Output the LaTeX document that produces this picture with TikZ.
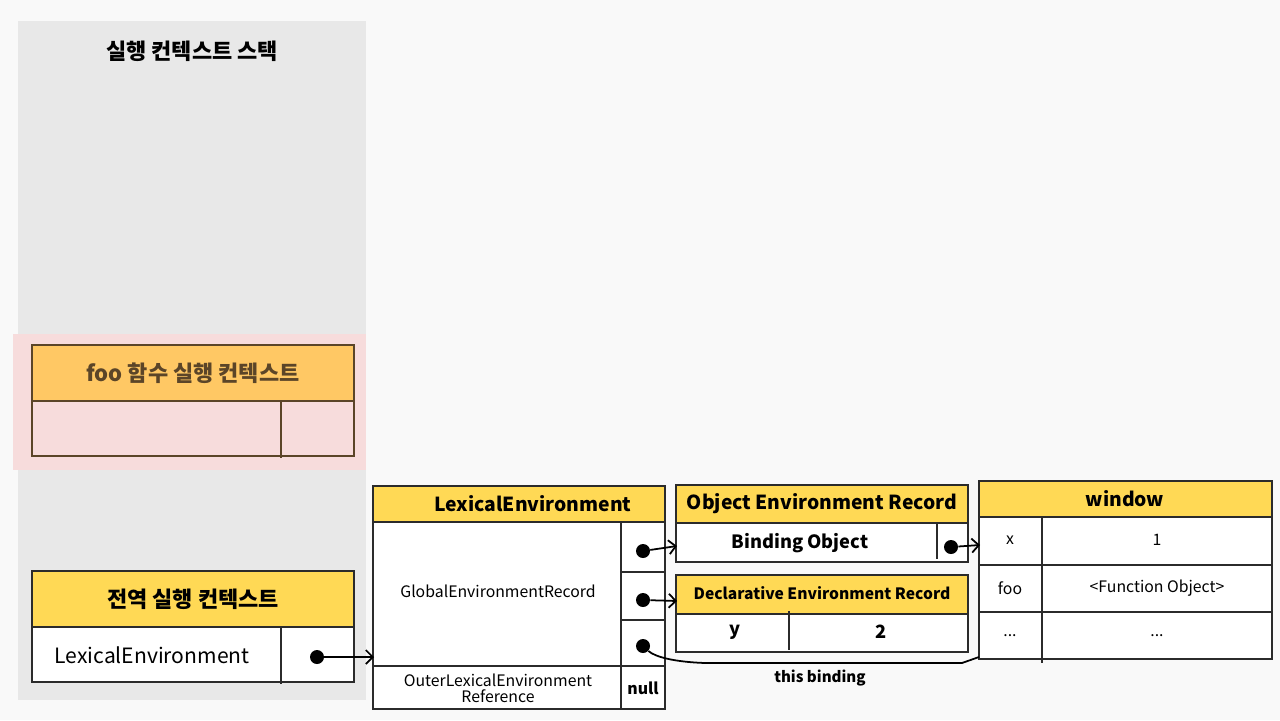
\documentclass[tikz,border=0pt]{standalone}
\usepackage{fontspec}
\setmainfont{Noto Sans CJK KR}
\usetikzlibrary{arrows.meta}

\definecolor{canvas}{HTML}{F9F9F9}
\definecolor{stackgray}{HTML}{E8E8E8}
\definecolor{pinkbg}{HTML}{F7DCDC}
\definecolor{orangehdr}{HTML}{FFC864}
\definecolor{yellowhdr}{HTML}{FFD955}
\definecolor{brownline}{HTML}{5B4528}
\definecolor{darkline}{HTML}{2B2B2B}

\tikzset{
  box/.style={draw=darkline, line width=0.7pt},
  dot/.style={circle, fill=black, inner sep=0pt, minimum size=0.28cm},
  link/.style={line width=1pt, -{Straight Barb[length=1.4mm, width=2.8mm]}},
  bigtext/.style={font=\bfseries\fontsize{12.5}{15}\selectfont},
  hdrtext/.style={font=\bfseries\fontsize{11}{13}\selectfont},
  celltext/.style={font=\fontsize{9}{9.2}\selectfont, align=center},
  boldcell/.style={font=\bfseries\fontsize{10.4}{12}\selectfont},
}

\begin{document}
\begin{tikzpicture}[x=0.02cm, y=-0.02cm]
  \fill[canvas] (0, 0) rectangle (1280, 720);
  \useasboundingbox (0, 0) rectangle (1280, 720);

  \fill[stackgray] (18, 21) rectangle (366, 700);
  \node[bigtext] (stacktitle) at (192, 51) {실행 컨텍스트 스택};

  % foo context
  \fill[pinkbg] (13, 334) rectangle (366, 470);
  \draw[box, draw=brownline, fill=orangehdr] (32, 345) rectangle (354, 401);
  \draw[box, draw=brownline, fill=pinkbg] (32, 401) rectangle (354, 456);
  \draw[box, draw=brownline] (281, 401) -- (281, 458);
  \node[bigtext, text=brownline] (foohead) at (193, 373) {foo 함수 실행 컨텍스트};

  % global context
  \draw[box, fill=yellowhdr] (32, 571) rectangle (354, 627);
  \draw[box, fill=white] (32, 627) rectangle (354, 682);
  \draw[box] (281, 627) -- (281, 684);
  \node[bigtext] (globalhead) at (193, 599) {전역 실행 컨텍스트};
  \node[font=\fontsize{12}{14}\selectfont] (globalle) at (152, 655) {LexicalEnvironment};
  \node[dot] (globaldot) at (317, 657) {};

  % lexical environment
  \draw[box, fill=yellowhdr] (373, 486) rectangle (665, 522);
  \draw[box, fill=white] (373, 522) rectangle (665, 666);
  \draw[box, fill=white] (373, 666) rectangle (665, 709);
  \draw[box] (621, 522) -- (621, 709);
  \draw[box] (621, 572) -- (665, 572);
  \draw[box] (621, 620) -- (665, 620);
  \node[hdrtext] (lehead) at (533, 504) {LexicalEnvironment};
  \node[celltext] (globalrec) at (498, 591) {GlobalEnvironmentRecord};
  \node[celltext] (outerref) at (498, 688) {OuterLexicalEnvironment\\Reference};
  \node[celltext, font=\bfseries\fontsize{9}{11}\selectfont] (nullcell) at (643, 688) {null};
  \node[dot] (recdot1) at (643, 551) {};
  \node[dot] (recdot2) at (643, 600) {};
  \node[dot] (recdot3) at (643, 646) {};

  % object environment record
  \draw[box, fill=yellowhdr] (676, 485) rectangle (968, 523);
  \draw[box, fill=white] (676, 523) rectangle (968, 562);
  \draw[box] (937, 522) -- (937, 559);
  \node[hdrtext] (objhead) at (822, 504) {Object Environment Record};
  \node[boldcell] (bindobj) at (800, 543) {Binding Object};
  \node[dot] (objdot) at (951, 547) {};

  % declarative environment record
  \draw[box, fill=yellowhdr] (676, 575) rectangle (968, 614);
  \draw[box, fill=white] (676, 614) rectangle (968, 652);
  \draw[box] (789, 611) -- (789, 650);
  \node[font=\bfseries\fontsize{8.9}{11}\selectfont] (declhead) at (822, 593) {Declarative Environment Record};
  \node[boldcell] (decly) at (735, 632) {y};
  \node[boldcell] (declval) at (881, 632) {2};

  % window
  \draw[box, fill=yellowhdr] (979, 481) rectangle (1272, 517);
  \draw[box, fill=white] (979, 517) rectangle (1272, 659);
  \draw[box] (979, 565) -- (1272, 565);
  \draw[box] (979, 612) -- (1272, 612);
  \draw[box] (1042, 517) -- (1042, 663);
  \node[hdrtext] (winhead) at (1125, 499) {window};
  \node[celltext] (winx) at (1010, 540) {x};
  \node[celltext] (winxval) at (1157, 540) {1};
  \node[celltext] (winfoo) at (1010, 588) {foo};
  \node[celltext] (winfooval) at (1157, 588) {<Function Object>};
  \node[celltext] (winetc) at (1010, 636) {...};
  \node[celltext] (winetcval) at (1157, 636) {...};

  \coordinate (le-in) at (374, 657);
  \coordinate (obj-in) at (677, 546);
  \coordinate (decl-in) at (677, 601);
  \coordinate (win-in) at (980, 545);
  \coordinate (win-foot) at (979, 657);
  \draw[link] (globaldot) -- (le-in);
  \draw[link] (recdot1) -- (obj-in);
  \draw[link] (recdot2) -- (decl-in);
  \draw[link] (objdot) -- (win-in);
  \draw[line width=1pt] (recdot3) .. controls (655, 657) and (675, 662) .. (705, 663)
                        -- (962, 663) -- (win-foot);
  \node[celltext, font=\bfseries\fontsize{8.6}{10}\selectfont] (thisbind) at (820, 678) {this binding};
\end{tikzpicture}
\end{document}
